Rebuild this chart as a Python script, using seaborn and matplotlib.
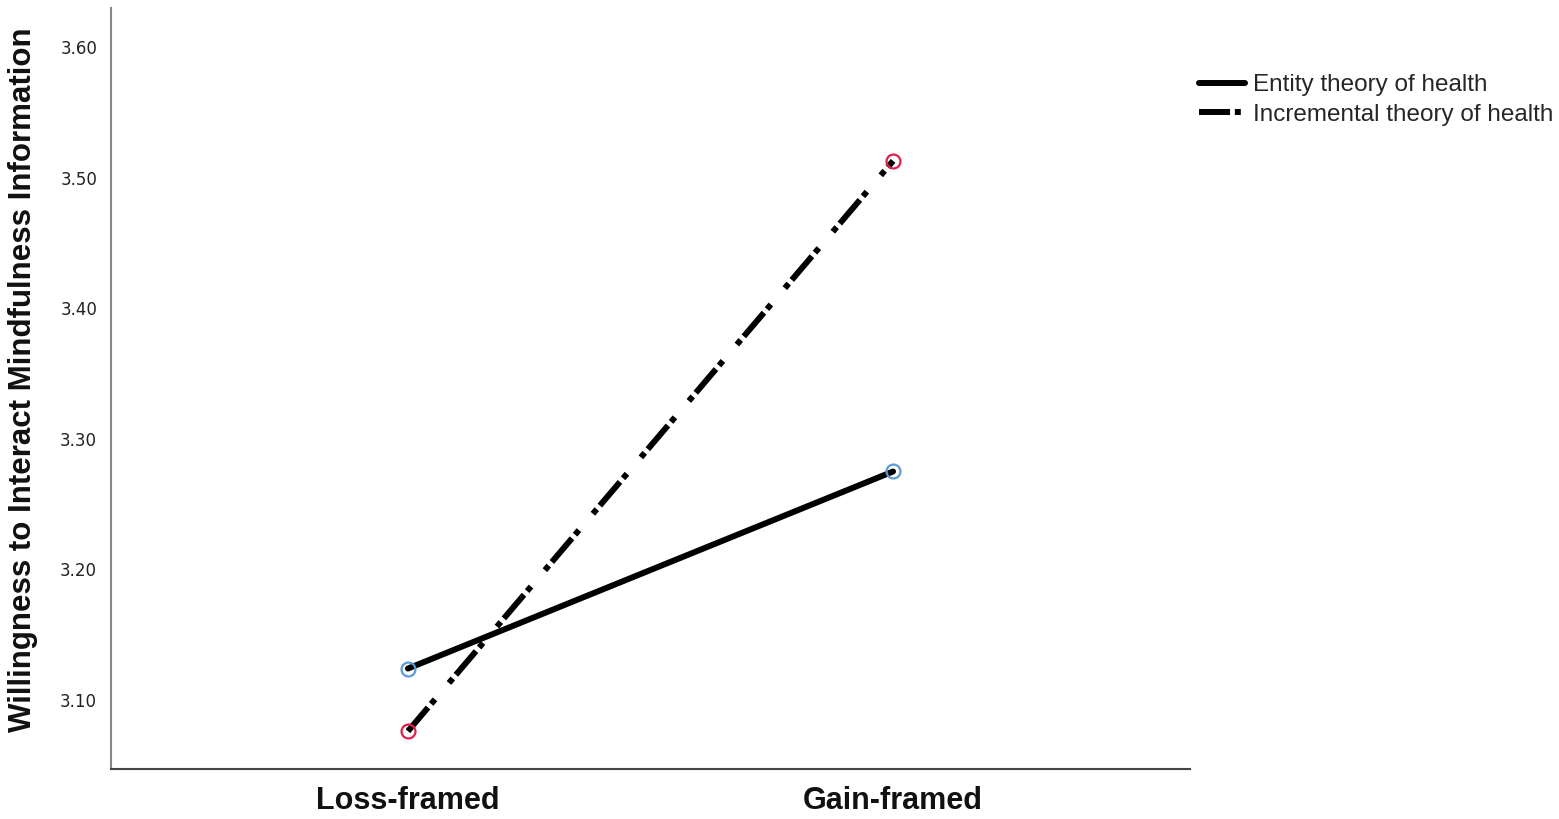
import pandas as pd
import numpy as np
import matplotlib.pyplot as plt
import seaborn as sns
from matplotlib.lines import Line2D

# Data
framing = ['Loss-framed', 'Gain-framed']
entity_vals = [3.124, 3.275]
incremental_vals = [3.076, 3.513]
theories = ['Entity theory of health', 'Incremental theory of health']
yticks = [3.10, 3.20, 3.30, 3.40, 3.50, 3.60]

df = pd.DataFrame({
    'framing': framing * 2,
    'theory': [theories[0]] * 2 + [theories[1]] * 2,
    'value': entity_vals + incremental_vals,
})

sns.set_style('white')
plt.rcParams['font.family'] = ['Liberation Sans', 'DejaVu Sans']

fig = plt.figure(figsize=(15.59, 8.19), dpi=100)
ax = fig.add_axes([0.0712, 0.061, 0.6921, 0.929])

# dash, gap, dot, long gap, dot, gap  (SPSS style dash-dot)
dashdot = (5.2, 0.8, 1.0, 3.6, 1.0, 0.8)
dash_styles = {theories[0]: '', theories[1]: dashdot}
sns.lineplot(data=df, x='framing', y='value', style='theory', dashes=dash_styles,
             color='black', lw=4.3, ax=ax, legend=False)

# open circle markers at the cell means
marker_colors = {theories[0]: '#5b9bd5', theories[1]: '#e0204a'}
for th in theories:
    sub = df[df['theory'] == th]
    sns.lineplot(data=sub, x='framing', y='value', color=marker_colors[th],
                 marker='o', markersize=10, mfc='none', mec=marker_colors[th],
                 mew=1.6, linestyle='none', ax=ax, legend=False)

ax.set_xlim(-0.612, 1.612)
ax.set_ylim(3.047, 3.63)
ax.set_yticks(yticks)
ax.set_yticklabels([f'{t:.2f}' for t in yticks], fontsize=12, color='#222222',
                   family='DejaVu Sans')
ax.set_xticks([0, 1])
ax.set_xticklabels(framing, fontsize=22, fontweight='bold', color='#111111')
ax.tick_params(axis='both', length=0)
ax.tick_params(axis='x', pad=12)
ax.tick_params(axis='y', pad=10)
ax.set_xlabel('')
ax.set_ylabel('Willingness to Interact Mindfulness Information', fontsize=22.5,
              fontweight='bold', color='#111111')
ax.yaxis.set_label_coords(-0.068, 0.512)

for side in ['top', 'right']:
    ax.spines[side].set_visible(False)
ax.spines['left'].set_color('#888888')
ax.spines['left'].set_linewidth(1.5)
ax.spines['bottom'].set_color('#444444')
ax.spines['bottom'].set_linewidth(1.5)

handles = [Line2D([0], [0], color='black', lw=4.3),
           Line2D([0], [0], color='black', lw=4.3, dashes=dashdot)]
fig.legend(handles, theories, loc='upper left', bbox_to_anchor=(0.763, 0.921),
           frameon=False, fontsize=17.5, handlelength=1.9, handletextpad=0.3,
           labelspacing=0.3, borderaxespad=0)

plt.savefig('out.png', dpi=100)
